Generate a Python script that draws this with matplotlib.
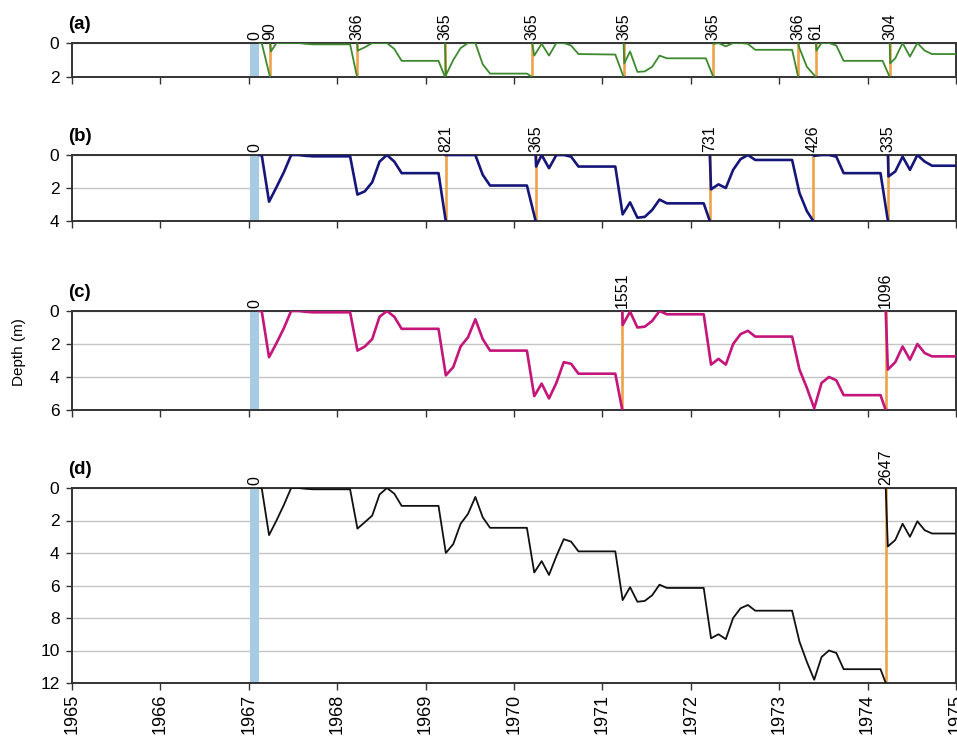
import numpy as np
import matplotlib.pyplot as plt
from matplotlib.transforms import ScaledTranslation

plt.rcParams['font.family'] = ['Liberation Sans', 'DejaVu Sans']

nan = np.nan

years = list(range(1965, 1976))
start_span = (1967.01, 1967.12)
start_label_t = 1967.065

# (a) 2 m threshold
a_t = [1967.12, 1967.146, 1967.24, nan, 1967.24, 1967.25, 1967.313, 1967.563, 1967.646, 1967.729,
       1968.146, 1968.225, nan, 1968.225, 1968.232, 1968.313, 1968.396, 1968.563, 1968.646, 1968.729,
       1969.146, 1969.22, nan, 1969.22, 1969.229, 1969.313, 1969.396, 1969.479, 1969.563, 1969.646, 1969.729,
       1970.146, 1970.205, nan, 1970.205, 1970.229, 1970.313, 1970.396, 1970.479, 1970.563, 1970.646, 1970.729,
       1971.146, 1971.24, nan, 1971.24, 1971.247, 1971.313, 1971.396, 1971.479, 1971.563, 1971.646, 1971.729,
       1972.17, 1972.255, nan, 1972.255, 1972.262, 1972.313, 1972.396, 1972.479, 1972.563, 1972.646, 1972.729,
       1973.146, 1973.215, nan, 1973.215, 1973.229, 1973.313, 1973.415, nan, 1973.415, 1973.42, 1973.479, 1973.563, 1973.646, 1973.729,
       1974.17, 1974.25, nan, 1974.25, 1974.255, 1974.313, 1974.396, 1974.479, 1974.563, 1974.646, 1974.729, 1975.1]
a_depth = [0, 0, 2.0, nan, 0, 0.5, 0, 0, 0.05, 0.08,
           0.08, 2.0, nan, 0, 0.45, 0.25, 0, 0, 0.35, 1.05,
           1.05, 2.0, nan, 0, 1.9, 1.0, 0.3, 0, 0, 1.25, 1.8,
           1.8, 2.0, nan, 0, 0.74, 0.05, 0.74, 0, 0, 0.15, 0.65,
           0.68, 2.0, nan, 0, 1.2, 0.5, 1.7, 1.67, 1.4, 0.74, 0.9,
           0.9, 2.0, nan, 0, 0.05, 0, 0.2, 0, 0, 0.05, 0.4,
           0.4, 2.0, nan, 0, 0.3, 1.4, 2.0, nan, 0, 0.45, 0, 0, 0.15, 1.05,
           1.05, 2.0, nan, 0, 1.2, 0.9, 0, 0.8, 0, 0.45, 0.65, 0.65]
a_event_t = [1967.24, 1968.225, 1969.22, 1970.205, 1971.24, 1972.255, 1973.215, 1973.415, 1974.25]
a_event_days = [90, 366, 365, 365, 365, 365, 366, 61, 304]

# (b) 4 m threshold
b_t = [1967.12, 1967.146, 1967.229, 1967.313, 1967.396, 1967.479, 1967.563, 1967.646, 1967.729,
       1968.146, 1968.229, 1968.313, 1968.396, 1968.479, 1968.563, 1968.646, 1968.729,
       1969.146, 1969.228, nan, 1969.228, 1969.313, 1969.396, 1969.479, 1969.563, 1969.646, 1969.729,
       1970.146, 1970.245, nan, 1970.245, 1970.25, 1970.313, 1970.396, 1970.479, 1970.563, 1970.646, 1970.729,
       1971.146, 1971.229, 1971.313, 1971.396, 1971.479, 1971.563, 1971.646, 1971.729,
       1972.146, 1972.215, nan, 1972.215, 1972.229, 1972.313, 1972.396, 1972.479, 1972.563, 1972.646, 1972.729,
       1973.146, 1973.229, 1973.313, 1973.385, nan, 1973.385, 1973.396, 1973.479, 1973.563, 1973.646, 1973.729,
       1974.146, 1974.23, nan, 1974.23, 1974.236, 1974.313, 1974.396, 1974.479, 1974.563, 1974.646, 1974.729, 1975.1]
b_depth = [0, 0, 2.83, 1.95, 1.05, 0, 0, 0.05, 0.08,
           0.08, 2.4, 2.2, 1.65, 0.4, 0, 0.4, 1.1,
           1.1, 4.0, nan, 0, 0, 0, 0, 0, 1.2, 1.85,
           1.85, 4.0, nan, 0, 0.7, 0, 0.8, 0, 0, 0.1, 0.7,
           0.7, 3.6, 2.87, 3.8, 3.75, 3.33, 2.7, 2.93,
           2.93, 4.0, nan, 0, 2.08, 1.78, 2.0, 0.9, 0.25, 0, 0.3,
           0.3, 2.3, 3.4, 4.0, nan, 0, 0.05, 0, 0, 0.1, 1.1,
           1.1, 4.0, nan, 0, 1.3, 1.0, 0.1, 0.9, 0, 0.4, 0.65, 0.65]
b_event_t = [1969.228, 1970.245, 1972.215, 1973.385, 1974.23]
b_event_days = [821, 365, 731, 426, 335]

# (c) 6 m threshold
c_t = [1967.12, 1967.146, 1967.229, 1967.313, 1967.396, 1967.479, 1967.563, 1967.646, 1967.729,
       1968.146, 1968.229, 1968.313, 1968.396, 1968.479, 1968.563, 1968.646, 1968.729,
       1969.146, 1969.229, 1969.313, 1969.396, 1969.479, 1969.563, 1969.646, 1969.729,
       1970.146, 1970.229, 1970.313, 1970.396, 1970.479, 1970.563, 1970.646, 1970.729,
       1971.146, 1971.225, nan, 1971.225, 1971.229, 1971.313, 1971.396, 1971.479, 1971.563, 1971.646, 1971.729,
       1972.146, 1972.229, 1972.313, 1972.396, 1972.479, 1972.563, 1972.646, 1972.729,
       1973.146, 1973.229, 1973.313, 1973.396, 1973.479, 1973.563, 1973.646, 1973.729,
       1974.146, 1974.205, nan, 1974.205, 1974.229, 1974.313, 1974.396, 1974.479, 1974.563, 1974.646, 1974.729, 1975.1]
c_depth = [0, 0, 2.8, 1.95, 1.05, 0, 0, 0.05, 0.08,
           0.08, 2.4, 2.15, 1.7, 0.35, 0, 0.35, 1.08,
           1.08, 3.9, 3.4, 2.15, 1.6, 0.5, 1.7, 2.4,
           2.4, 5.16, 4.4, 5.3, 4.36, 3.1, 3.2, 3.8,
           3.8, 6.0, nan, 0, 0.85, 0.04, 1.0, 0.95, 0.6, 0, 0.2,
           0.2, 3.25, 2.9, 3.25, 2.0, 1.4, 1.2, 1.55,
           1.55, 3.55, 4.66, 5.9, 4.36, 4.0, 4.2, 5.1,
           5.1, 6.0, nan, 0, 3.55, 3.1, 2.15, 2.95, 2.0, 2.55, 2.75, 2.75]
c_event_t = [1971.225, 1974.205]
c_event_days = [1551, 1096]

# (d) 12 m threshold
d_t = [1967.12, 1967.146, 1967.229, 1967.313, 1967.396, 1967.479, 1967.563, 1967.646, 1967.729,
       1968.146, 1968.229, 1968.313, 1968.396, 1968.479, 1968.563, 1968.646, 1968.729,
       1969.146, 1969.229, 1969.313, 1969.396, 1969.479, 1969.563, 1969.646, 1969.729,
       1970.146, 1970.229, 1970.313, 1970.396, 1970.479, 1970.563, 1970.646, 1970.729,
       1971.146, 1971.229, 1971.313, 1971.396, 1971.479, 1971.563, 1971.646, 1971.729,
       1972.146, 1972.229, 1972.313, 1972.396, 1972.479, 1972.563, 1972.646, 1972.729,
       1973.146, 1973.229, 1973.313, 1973.396, 1973.479, 1973.563, 1973.646, 1973.729,
       1974.146, 1974.205, nan, 1974.205, 1974.229, 1974.313, 1974.396, 1974.479, 1974.563, 1974.646, 1974.729, 1975.1]
d_depth = [0, 0, 2.9, 2.0, 1.05, 0, 0, 0.05, 0.08,
           0.08, 2.5, 2.1, 1.7, 0.4, 0, 0.35, 1.1,
           1.1, 4.0, 3.45, 2.2, 1.6, 0.55, 1.8, 2.45,
           2.45, 5.2, 4.5, 5.35, 4.2, 3.15, 3.3, 3.9,
           3.9, 6.9, 6.1, 7.0, 6.95, 6.6, 5.95, 6.15,
           6.15, 9.25, 9.0, 9.3, 8.0, 7.4, 7.2, 7.55,
           7.55, 9.45, 10.7, 11.8, 10.4, 10.0, 10.15, 11.15,
           11.15, 12.0, nan, 0, 3.6, 3.2, 2.2, 3.0, 2.05, 2.6, 2.8, 2.8]
d_event_t = [1974.205]
d_event_days = [2647]

W, H = 957, 738
ORANGE = '#eea24a'
BLUE = '#a7cbe3'
SPINE = '#333333'


def px_axes(fig, top, bottom, left=72, right=956):
    return fig.add_axes([left / W, 1 - bottom / H, (right - left) / W, (bottom - top) / H])


def draw_panel(ax, t, depth, ev_t, ev_days, max_depth, color, lw, letter, show_x):
    ax.set_xlim(years[0], years[-1])
    ax.set_ylim(max_depth, 0)
    ax.set_yticks(np.arange(0, max_depth + 0.1, 2))
    ax.set_xticks(years)
    ax.yaxis.grid(True, color='#c4c4c4', lw=1.0, zorder=0)
    ax.set_axisbelow(True)

    ax.axvspan(*start_span, color=BLUE, lw=0, zorder=1)
    for et in ev_t:
        ax.axvline(et, color=ORANGE, lw=1.9, zorder=2)
    ax.plot(t, depth, color=color, lw=lw, zorder=3)

    lab_kw = dict(xycoords=('data', 'axes fraction'), textcoords='offset points',
                  xytext=(0, 2), rotation=90, ha='center', va='bottom', fontsize=11.5)
    ax.annotate('0', xy=(start_label_t, 1), **lab_kw)
    for et, dd in zip(ev_t, ev_days):
        ax.annotate(str(dd), xy=(et, 1), **lab_kw)

    for s in ax.spines.values():
        s.set_color(SPINE)
        s.set_linewidth(1.4)
    ax.tick_params(direction='out', length=4, width=1, color=SPINE, labelsize=12.5, pad=5)
    ax.tick_params(axis='x', length=5, pad=3)
    if show_x:
        ax.set_xticklabels([str(y) for y in years], rotation=90, fontsize=13)
    else:
        ax.set_xticklabels([])
    # panel letter, a bit above the top spine
    off = ScaledTranslation(0, 10 / 100, fig.dpi_scale_trans)
    ax.text(-0.004, 1.0, letter, transform=ax.transAxes + off, fontsize=13.5,
            fontweight='bold', ha='left', va='bottom')


fig = plt.figure(figsize=(W / 100, H / 100), dpi=100)
ax_a = px_axes(fig, 43, 77)
ax_b = px_axes(fig, 155, 221)
ax_c = px_axes(fig, 311, 410)
ax_d = px_axes(fig, 488, 683)

draw_panel(ax_a, a_t, a_depth, a_event_t, a_event_days, 2, '#3d8a2e', 1.3, '(a)', False)
draw_panel(ax_b, b_t, b_depth, b_event_t, b_event_days, 4, '#16167a', 1.9, '(b)', False)
draw_panel(ax_c, c_t, c_depth, c_event_t, c_event_days, 6, '#c4157a', 1.9, '(c)', False)
draw_panel(ax_d, d_t, d_depth, d_event_t, d_event_days, 12, '#111111', 1.3, '(d)', True)

fig.text(19 / W, 1 - 352 / H, 'Depth (m)', rotation=90, ha='center', va='center', fontsize=11)

fig.savefig('out.png', dpi=100)
